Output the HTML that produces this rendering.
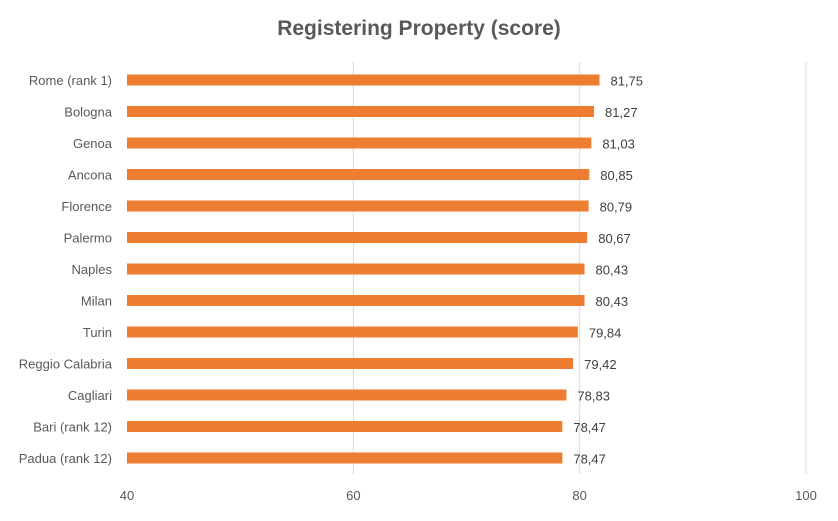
<!DOCTYPE html>
<html><head><meta charset="utf-8"><style>
body{margin:0;background:#fff;font-family:"Liberation Sans",Arial,sans-serif}
svg text{font-family:"Liberation Sans",Arial,sans-serif}
</style></head><body>
<svg id="chart" width="838" height="516" xmlns="http://www.w3.org/2000/svg">
<rect width="838" height="516" fill="#fff"/>
<text x="419" y="35" text-anchor="middle" font-size="21" font-weight="bold" fill="#595959">Registering Property (score)</text>
<g id="grid"></g><g id="bars"></g><g id="labels"></g><g id="ticks"></g>
</svg>
<script>
const categories=["Rome (rank 1)","Bologna","Genoa","Ancona","Florence","Palermo","Naples","Milan","Turin","Reggio Calabria","Cagliari","Bari (rank 12)","Padua (rank 12)"];
const values=[81.75,81.27,81.03,80.85,80.79,80.67,80.43,80.43,79.84,79.42,78.83,78.47,78.47];
const tickValues=[40,60,80,100];
const NS="http://www.w3.org/2000/svg";
const xMin=40,xMax=100,x0=127,x1=806;
const xs=v=>x0+(v-xMin)/(xMax-xMin)*(x1-x0);
const yTop=80,yStep=31.5;
const ys=i=>yTop+i*yStep;
function mk(t,a,p){const e=document.createElementNS(NS,t);for(const k in a)e.setAttribute(k,a[k]);p.appendChild(e);return e;}
const grid=document.getElementById('grid'),bars=document.getElementById('bars'),labels=document.getElementById('labels'),ticks=document.getElementById('ticks');
tickValues.forEach(t=>{
  if(t>xMin){const l=mk('line',{x1:xs(t),x2:xs(t),y1:62,y2:474,stroke:'#d9d9d9','stroke-width':1},grid);
  
  }
  const tx=mk('text',{x:xs(t),y:500,'text-anchor':'middle','font-size':13,fill:'#595959'},ticks);
  tx.textContent=t;
  
  
});
categories.forEach((c,i)=>{
  const y=ys(i);
  const r=mk('rect',{x:x0,y:y-5.5,width:xs(values[i])-x0,height:11,fill:'#ed7d31'},bars);
  
  
  const cl=mk('text',{x:112,y:y+5,'text-anchor':'end','font-size':13,fill:'#595959'},labels);
  cl.textContent=c;
  
  
  const vl=mk('text',{x:xs(values[i])+11,y:y+5.5,'font-size':13,fill:'#404040'},labels);
  vl.textContent=values[i].toFixed(2).replace('.',',');
  
  
});
</script>
</body></html>
